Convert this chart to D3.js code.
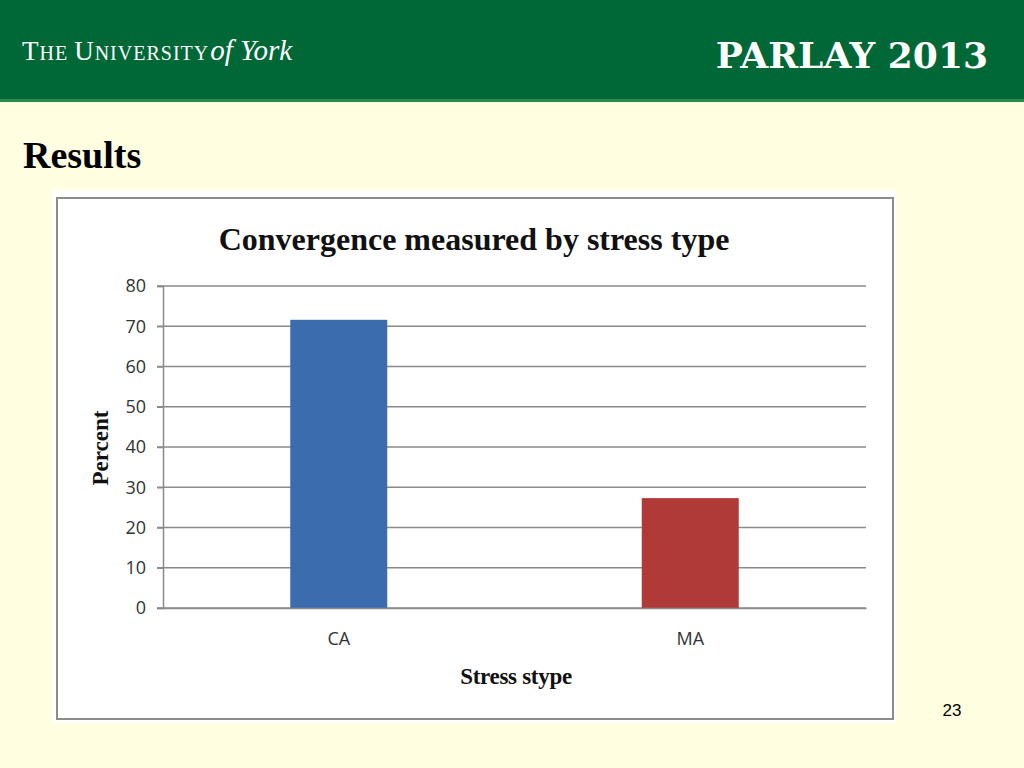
<!DOCTYPE html>
<html>
<head>
<meta charset="utf-8">
<script src="https://cdn.jsdelivr.net/npm/d3@7"></script>
<style>
  html, body { margin: 0; padding: 0; background: #fffee0; }
  svg { display: block; }
</style>
</head>
<body>
<div id="chart"></div>
<script>
// data
const categories = ['CA', 'MA'];
const percents = [71.6, 27.3];
const barColors = ['#3b6dae', '#b03a38'];
const yTicks = [0, 10, 20, 30, 40, 50, 60, 70, 80];

const width = 1024;
const height = 768;

const svg = d3
  .select('#chart')
  .append('svg')
  .attr('width', width)
  .attr('height', height);

svg.append('rect').attr('width', width).attr('height', height).attr('fill', '#fffee0');

// header band
svg.append('rect').attr('width', width).attr('height', 101).attr('fill', '#006837');
svg.append('rect').attr('y', 99).attr('width', width).attr('height', 3).attr('fill', '#2f8a4f');

const york = svg
  .append('text')
  .attr('x', 22)
  .attr('y', 60)
  .attr('fill', '#ffffff')
  .style('font-family', '"Liberation Serif", "DejaVu Serif", serif')
  .style('letter-spacing', '1px');
york.append('tspan').style('font-size', '27px').text('T');
york.append('tspan').style('font-size', '20px').text('HE ');
york.append('tspan').style('font-size', '27px').text('U');
york.append('tspan').style('font-size', '20px').text('NIVERSITY');
york
  .append('tspan')
  .style('font-size', '29px')
  .style('font-style', 'italic')
  .style('letter-spacing', '0px')
  .attr('dx', 1)
  .text('of York');

svg
  .append('text')
  .attr('x', 988)
  .attr('y', 68)
  .attr('text-anchor', 'end')
  .attr('fill', '#ffffff')
  .style('font-family', '"DejaVu Serif", serif')
  .style('font-weight', 'bold')
  .style('font-size', '36px')
  .text('PARLAY  2013');

svg
  .append('text')
  .attr('x', 23)
  .attr('y', 168)
  .attr('fill', '#000000')
  .style('font-family', '"Liberation Serif", serif')
  .style('font-weight', 'bold')
  .style('font-size', '38px')
  .text('Results');

svg
  .append('text')
  .attr('x', 952)
  .attr('y', 716)
  .attr('text-anchor', 'middle')
  .attr('fill', '#000000')
  .style('font-family', '"Liberation Sans", Arial, sans-serif')
  .style('font-size', '17px')
  .text('23');

// chart frame
svg
  .append('rect')
  .attr('x', 52)
  .attr('y', 190)
  .attr('width', 844)
  .attr('height', 533)
  .attr('fill', '#ffffff');
svg
  .append('rect')
  .attr('x', 57)
  .attr('y', 198)
  .attr('width', 836)
  .attr('height', 521)
  .attr('fill', '#ffffff')
  .attr('stroke', '#8c8c8c')
  .attr('stroke-width', 2);

svg
  .append('text')
  .attr('x', 474)
  .attr('y', 250)
  .attr('text-anchor', 'middle')
  .attr('fill', '#111111')
  .style('font-family', '"Liberation Serif", serif')
  .style('font-weight', 'bold')
  .style('font-size', '32px')
  .text('Convergence measured by stress type');

// plot
const plot = { left: 163, right: 866, top: 286, bottom: 608 };

const x = d3
  .scaleBand()
  .domain(categories)
  .range([plot.left, plot.right])
  .paddingInner(0.724)
  .paddingOuter(0.362);

const y = d3.scaleLinear().domain([0, 80]).range([plot.bottom, plot.top]);

// gridlines
svg
  .append('g')
  .selectAll('line')
  .data(yTicks)
  .join('line')
  .attr('x1', plot.left - 6)
  .attr('x2', plot.right)
  .attr('y1', (d) => y(d))
  .attr('y2', (d) => y(d))
  .attr('stroke', '#8a8a8a')
  .attr('stroke-width', 1.5);

// bars
svg
  .append('g')
  .selectAll('rect')
  .data(categories)
  .join('rect')
  .attr('x', (d) => x(d))
  .attr('y', (d, i) => y(percents[i]))
  .attr('width', x.bandwidth())
  .attr('height', (d, i) => y(0) - y(percents[i]))
  .attr('fill', (d, i) => barColors[i]);

// y axis
const yAxis = svg
  .append('g')
  .attr('transform', `translate(${plot.left},0)`)
  .call(d3.axisLeft(y).tickValues(yTicks).tickSize(6).tickPadding(11));
yAxis.select('.domain').attr('stroke', '#8a8a8a').attr('stroke-width', 1.5);
yAxis.selectAll('.tick line').attr('stroke', '#8a8a8a').attr('stroke-width', 1.5);
yAxis
  .selectAll('.tick text')
  .attr('fill', '#333333')
  .style('font-family', '"Open Sans", "Liberation Sans", sans-serif')
  .style('font-size', '18px');

// x axis
const xAxis = svg
  .append('g')
  .attr('transform', `translate(0,${plot.bottom})`)
  .call(d3.axisBottom(x).tickSize(0).tickPadding(24));
xAxis.select('.domain').attr('stroke', '#8a8a8a').attr('stroke-width', 1.5);
xAxis
  .selectAll('.tick text')
  .attr('fill', '#333333')
  .style('font-family', '"Open Sans", "Liberation Sans", sans-serif')
  .style('font-size', '18px');

// axis titles
svg
  .append('text')
  .attr('x', 516)
  .attr('y', 684)
  .attr('text-anchor', 'middle')
  .attr('fill', '#111111')
  .style('font-family', '"Liberation Serif", serif')
  .style('font-weight', 'bold')
  .style('font-size', '23px')
  .style('letter-spacing', '-0.3px')
  .text('Stress stype');

svg
  .append('text')
  .attr('transform', 'translate(108,448) rotate(-90)')
  .attr('text-anchor', 'middle')
  .attr('fill', '#111111')
  .style('font-family', '"Liberation Serif", serif')
  .style('font-weight', 'bold')
  .style('font-size', '23px')
  .text('Percent');
</script>
</body>
</html>
